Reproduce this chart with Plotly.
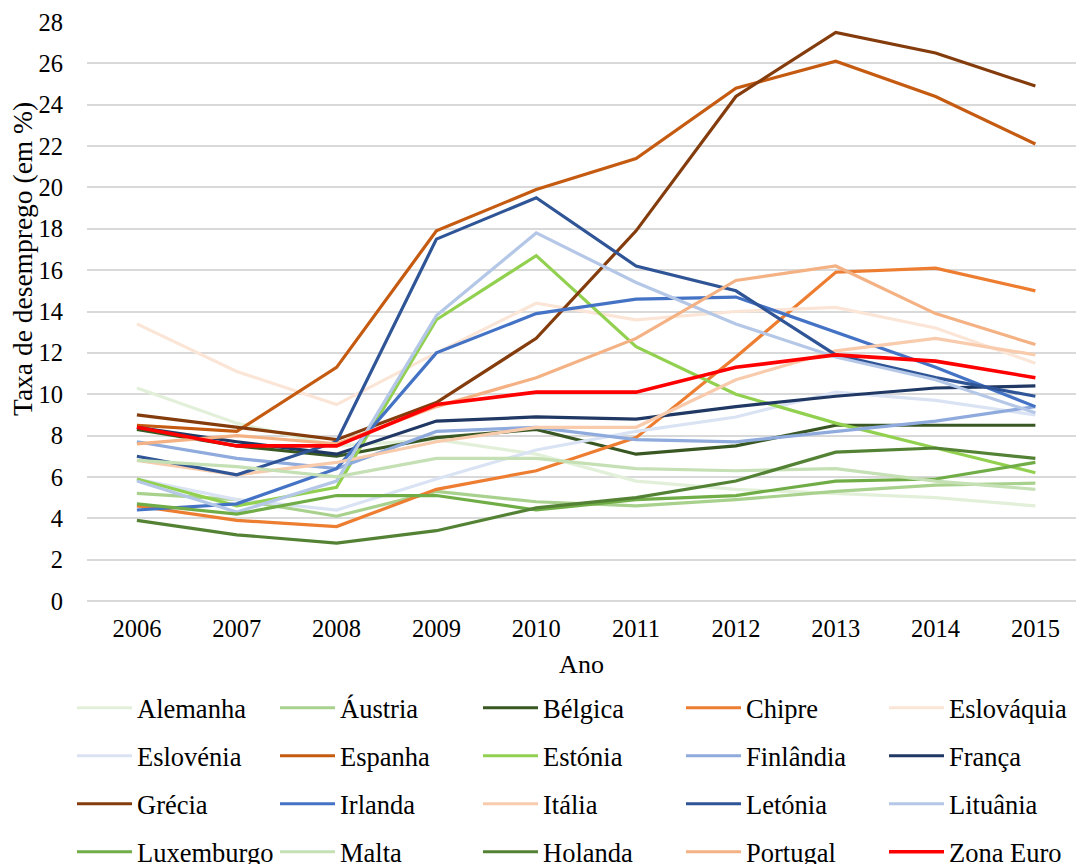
import plotly.graph_objects as go

years = [2006, 2007, 2008, 2009, 2010, 2011, 2012, 2013, 2014, 2015]

alemanha   = [10.3, 8.6, 7.5, 7.8, 7.1, 5.8, 5.4, 5.2, 5.0, 4.6]
austria    = [5.2, 4.9, 4.1, 5.3, 4.8, 4.6, 4.9, 5.3, 5.6, 5.7]
belgica    = [8.3, 7.5, 7.0, 7.9, 8.3, 7.1, 7.5, 8.5, 8.5, 8.5]
chipre     = [4.6, 3.9, 3.6, 5.4, 6.3, 7.9, 11.8, 15.9, 16.1, 15.0]
eslovaquia = [13.4, 11.1, 9.5, 12.0, 14.4, 13.6, 14.0, 14.2, 13.2, 11.5]
eslovenia  = [5.9, 4.9, 4.4, 5.9, 7.3, 8.2, 8.9, 10.1, 9.7, 9.0]
espanha    = [8.5, 8.2, 11.3, 17.9, 19.9, 21.4, 24.8, 26.1, 24.4, 22.1]
estonia    = [5.9, 4.6, 5.5, 13.6, 16.7, 12.3, 10.0, 8.6, 7.4, 6.2]
finlandia  = [7.7, 6.9, 6.4, 8.2, 8.4, 7.8, 7.7, 8.2, 8.7, 9.4]
franca     = [8.4, 7.7, 7.1, 8.7, 8.9, 8.8, 9.4, 9.9, 10.3, 10.4]
grecia     = [9.0, 8.4, 7.8, 9.6, 12.7, 17.9, 24.4, 27.5, 26.5, 24.9]
irlanda    = [4.4, 4.7, 6.4, 12.0, 13.9, 14.6, 14.7, 13.0, 11.3, 9.4]
italia     = [6.8, 6.1, 6.7, 7.7, 8.4, 8.4, 10.7, 12.1, 12.7, 11.9]
letonia    = [7.0, 6.1, 7.7, 17.5, 19.5, 16.2, 15.0, 11.9, 10.8, 9.9]
lituania   = [5.8, 4.3, 5.8, 13.8, 17.8, 15.4, 13.4, 11.8, 10.7, 9.1]
luxemburgo = [4.7, 4.2, 5.1, 5.1, 4.4, 4.9, 5.1, 5.8, 5.9, 6.7]
malta      = [6.8, 6.5, 6.0, 6.9, 6.9, 6.4, 6.3, 6.4, 5.8, 5.4]
holanda    = [3.9, 3.2, 2.8, 3.4, 4.5, 5.0, 5.8, 7.2, 7.4, 6.9]
portugal   = [7.6, 8.0, 7.6, 9.4, 10.8, 12.7, 15.5, 16.2, 13.9, 12.4]
zona_euro  = [8.4, 7.5, 7.5, 9.5, 10.1, 10.1, 11.3, 11.9, 11.6, 10.8]

names = ["Alemanha", "Áustria", "Bélgica", "Chipre", "Eslováquia",
         "Eslovénia", "Espanha", "Estónia", "Finlândia", "França",
         "Grécia", "Irlanda", "Itália", "Letónia", "Lituânia",
         "Luxemburgo", "Malta", "Holanda", "Portugal", "Zona Euro"]
series = [alemanha, austria, belgica, chipre, eslovaquia,
          eslovenia, espanha, estonia, finlandia, franca,
          grecia, irlanda, italia, letonia, lituania,
          luxemburgo, malta, holanda, portugal, zona_euro]
colors = ["#E2F0D9", "#A9D18E", "#385723", "#ED7D31", "#FBE5D6",
          "#DAE3F3", "#C55A11", "#92D050", "#8FAADC", "#203864",
          "#843C0C", "#4472C4", "#F8CBAD", "#2F5597", "#B4C7E7",
          "#70AD47", "#C5E0B4", "#548235", "#F4B183", "#FF0000"]

FONT = "Liberation Serif"
W, H = 1076, 864
PL, PT, PB = 87, 22, 601
PW, PH = W - PL, PB - PT
legend_ids = ["legend", "legend2", "legend3", "legend4"]

fig = go.Figure()
for i, (n, s, c) in enumerate(zip(names, series, colors)):
    fig.add_trace(go.Scatter(
        x=years, y=s, name=n, mode="lines",
        line=dict(color=c, width=3.6 if n == "Zona Euro" else 3.2),
        legend=legend_ids[i // 5],
    ))

row_y = [708, 756, 804, 852]
ITEMW = 55
leg_common = dict(
    orientation="h", xref="paper", yref="paper",
    x=(72 - PL) / PW, xanchor="left", yanchor="middle",
    entrywidth=203 - ITEMW - 15, entrywidthmode="pixels",
    font=dict(family=FONT, size=26.5, color="#000000"),
    bgcolor="rgba(0,0,0,0)", itemwidth=ITEMW, traceorder="normal",
)
legends = {}
for k, lid in enumerate(legend_ids):
    legends[lid] = dict(leg_common, y=(PB - row_y[k]) / PH)

fig.update_layout(
    width=W, height=H,
    margin=dict(l=PL, r=0, t=PT, b=H - PB, autoexpand=False),
    paper_bgcolor="white", plot_bgcolor="white",
    font=dict(family=FONT, size=24, color="#000000"),
    showlegend=True,
    xaxis=dict(
        range=[2005.5, 2005.5 + PW / 99.83],
        tickmode="array", tickvals=years, ticktext=[str(y) for y in years],
        showgrid=False, zeroline=False, showline=False, ticks="",
        tickfont=dict(family=FONT, size=24.5, color="#000000"),
        ticklabelstandoff=10,
        title=dict(text="Ano", font=dict(family=FONT, size=26, color="#000000"), standoff=14),
    ),
    yaxis=dict(
        range=[0, 28], dtick=2, tick0=0,
        showgrid=True, gridcolor="#D9D9D9", gridwidth=2,
        zeroline=True, zerolinecolor="#D9D9D9", zerolinewidth=2,
        showline=False, ticks="",
        tickfont=dict(family=FONT, size=24.5, color="#000000"),
        ticklabelstandoff=23,
    ),
    annotations=[dict(
        text="Taxa de desemprego (em %)", textangle=-90,
        xref="paper", yref="paper",
        x=(22 - PL) / PW, y=(PB - 259) / PH,
        xanchor="center", yanchor="middle", showarrow=False,
        font=dict(family=FONT, size=27.5, color="#000000"),
    )],
    **legends,
)

fig.write_html("out.html")
